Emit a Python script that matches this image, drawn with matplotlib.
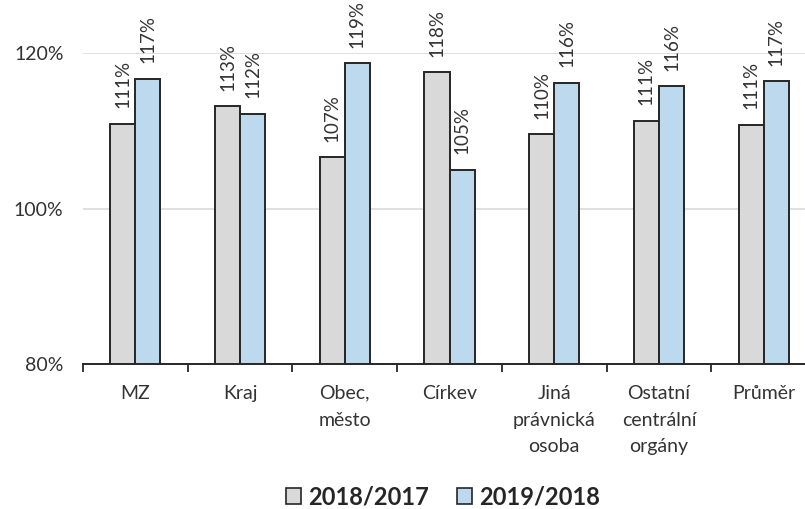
import numpy as np
import matplotlib.pyplot as plt
from matplotlib.patches import Patch

categories = ["MZ", "Kraj", "Obec,\nměsto", "Církev", "Jiná\nprávnická\nosoba",
              "Ostatní\ncentrální\norgány", "Průměr"]
r2018 = [110.9, 113.2, 106.6, 117.5, 109.6, 111.3, 110.8]
r2019 = [116.7, 112.2, 118.7, 105.0, 116.2, 115.7, 116.4]
lab2018 = ["111%", "113%", "107%", "118%", "110%", "111%", "111%"]
lab2019 = ["117%", "112%", "119%", "105%", "116%", "116%", "117%"]
series_names = ["2018/2017", "2019/2018"]

plt.rcParams["font.family"] = ["Lato", "DejaVu Sans"]
txt = "#333333"
c_gray = "#d9d9d9"
c_blue = "#bcd9ee"
edge = "#262626"

fig = plt.figure(figsize=(8.05, 5.09), dpi=100)
ax = fig.add_axes([83 / 805, 145 / 509, 733 / 805, 311 / 509])

x = np.arange(len(categories))
w = 0.24
ax.bar(x - w / 2, np.array(r2018) - 80, w, bottom=80, color=c_gray,
       edgecolor=edge, linewidth=1.4, zorder=3)
ax.bar(x + w / 2, np.array(r2019) - 80, w, bottom=80, color=c_blue,
       edgecolor=edge, linewidth=1.4, zorder=3)

for xs, vals, labs in [(x - w / 2, r2018, lab2018), (x + w / 2, r2019, lab2019)]:
    for xi, v, l in zip(xs, vals, labs):
        ax.annotate(l, (xi, v), xytext=(0, 11), textcoords="offset points",
                    rotation=90, ha="center", va="bottom", fontsize=13.5,
                    color=txt, clip_on=False)

ax.set_xlim(-0.5, len(categories) - 0.5)
ax.set_ylim(80, 120)
ax.set_yticks([80, 100, 120])
ax.set_yticklabels(["80%", "100%", "120%"])
ax.yaxis.grid(True, color="#d9d9d9", linewidth=1.2, zorder=0)
ax.tick_params(axis="y", length=0, labelsize=14, labelcolor=txt, pad=14)

ax.set_xticks(x)
ax.set_xticklabels(categories, fontsize=14, color=txt, linespacing=1.7)
ax.tick_params(axis="x", which="major", length=0, pad=15)
ax.set_xticks(np.arange(len(categories) + 1) - 0.5, minor=True)
ax.tick_params(axis="x", which="minor", length=6, width=1.3, color=edge)

for s in ["top", "right", "left"]:
    ax.spines[s].set_visible(False)
ax.spines["bottom"].set_color(edge)
ax.spines["bottom"].set_linewidth(1.4)

handles = [Patch(facecolor=c_gray, edgecolor=edge, linewidth=1.2),
           Patch(facecolor=c_blue, edgecolor=edge, linewidth=1.2)]
fig.legend(handles, series_names, loc="center", bbox_to_anchor=(443 / 805, 1 - 497 / 509),
           ncol=2, frameon=False, prop={"weight": "bold", "size": 17},
           handlelength=0.65, handleheight=0.65, handletextpad=0.3, columnspacing=1.2,
           labelcolor=edge)

fig.savefig("out.png", dpi=100)
